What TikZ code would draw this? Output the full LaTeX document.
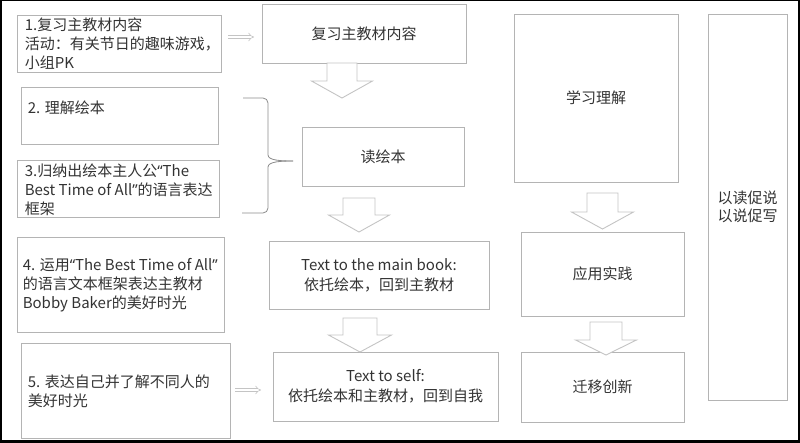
\documentclass[tikz,border=0pt]{standalone}
\usepackage{fontspec}
\setmainfont{Noto Sans CJK SC}
\newfontfamily\latinf{Noto Sans}
\usetikzlibrary{arrows.meta,calc}
\definecolor{boxgray}{HTML}{B4B4B4}
\definecolor{arrowgray}{HTML}{C4C4C4}
\definecolor{txtgray}{HTML}{333333}
\definecolor{bracegray}{HTML}{8C8C8C}
\newcommand{\myLq}{{\latinf “}}
\newcommand{\myRq}{{\latinf ”}}
\newcommand{\blockarr}[6]{%
  \draw[blockarrow] ({#1-#5},#2) -- ({#1-#5},#3) -- ({#1-#6},#3) -- (#1,#4)
    -- ({#1+#6},#3) -- ({#1+#5},#3) -- ({#1+#5},#2) -- cycle;}
\begin{document}
\begin{tikzpicture}[x=1pt,y=-1pt,
  box/.style={draw=boxgray,line width=0.8pt,fill=white,inner sep=0pt,
    text=txtgray,font=\fontsize{15}{19}\selectfont},
  cbox/.style={box,align=center},
  ltext/.style={anchor=west,align=left,inner sep=0pt,text=txtgray,
    font=\fontsize{15}{19}\selectfont},
  blockarrow/.style={draw=arrowgray,line width=0.9pt,fill=white,line join=miter},
  dblarrow/.style={draw=arrowgray,double=white,double distance=2.4pt,line width=0.6pt,
    -{Implies[length=4pt]}},
  bracestyle/.style={draw=bracegray,line width=0.8pt,rounded corners=5pt}]
% frame
\fill[black] (0,0) rectangle (800,443);
\fill[white] (2,1.5) rectangle (797.5,439.5);
\useasboundingbox (0,0) rectangle (800,443);
% left boxes
\node[box,minimum width=204pt,minimum height=57pt] (b1) at (119,43.5) {};
\node[ltext] (b1t) at ($(b1.west)+(8,0)$) {1.复习主教材内容\\活动：有关节日的趣味游戏，\\小组PK};
\node[box,minimum width=197pt,minimum height=57pt] (b2) at (119.5,115.5) {};
\node[ltext] (b2t) at ($(b2.west)+(7,-7.5)$) {2. 理解绘本};
\node[box,minimum width=202pt,minimum height=57pt] (b3) at (118,188.5) {};
\node[ltext] (b3t) at ($(b3.west)+(8,1)$)
  {3.归纳出绘本主人公\myLq The\\Best Time of All\myRq 的语言表达\\框架};
\node[box,minimum width=207pt,minimum height=95pt] (b4) at (120.5,284.5) {};
\node[ltext] (b4t) at ($(b4.west)+(6,0.5)$)
  {4. 运用\myLq The Best Time of All\myRq\\的语言文本框架表达主教材\\Bobby Baker的美好时光};
\node[box,minimum width=209pt,minimum height=95pt] (b5) at (125.5,390.5) {};
\node[ltext] (b5t) at ($(b5.west)+(7,0.5)$) {5. 表达自己并了解不同人的\\美好时光};
% middle boxes
\node[cbox,minimum width=204pt,minimum height=59pt] (m1) at (364,33.5) {复习主教材内容};
\node[cbox,minimum width=162pt,minimum height=59pt] (m2) at (383,156.5) {读绘本};
\node[cbox,minimum width=220pt,minimum height=68pt,font=\fontsize{15}{20}\selectfont] (m3) at (379,275)
  {Text to the main book:\\依托绘本，回到主教材};
\node[cbox,minimum width=225pt,minimum height=69pt,font=\fontsize{15}{20}\selectfont] (m4) at (385.5,386.5)
  {Text to self:\\依托绘本和主教材，回到自我};
% right boxes
\node[cbox,minimum width=164pt,minimum height=168pt] (r1) at (596,98) {学习理解};
\node[cbox,minimum width=163pt,minimum height=84pt] (r2) at (602.5,274) {应用实践};
\node[cbox,minimum width=163pt,minimum height=70pt] (r3) at (602.5,387) {迁移创新};
\node[cbox,minimum width=79pt,minimum height=386pt,font=\fontsize{15}{18}\selectfont] (t1) at (747.5,207)
  {以读促说\\以说促写};
% block arrows
\blockarr{342}{63}{81}{98}{15}{30.5}
\blockarr{359}{198}{215}{232}{16}{30.5}
\blockarr{360}{318}{335}{352}{17}{31.5}
\blockarr{602.5}{193}{212}{229}{15.5}{31}
\blockarr{606}{322}{340}{355}{16}{30.5}
% small double arrows
\coordinate (s1a) at (228,37);
\coordinate (s1b) at (254,37);
\draw[dblarrow] (s1a) -- (s1b);
\coordinate (s2a) at (235,390);
\coordinate (s2b) at (261,390);
\draw[dblarrow] (s2a) -- (s2b);
% brace
\coordinate (brtip) at (293,161);
\draw[bracestyle] (243,98) -| (268,150) to[out=-90,in=180] (brtip);
\draw[bracestyle] (brtip) to[out=180,in=90] (268,172) |- (242,213);
\end{tikzpicture}
\end{document}
